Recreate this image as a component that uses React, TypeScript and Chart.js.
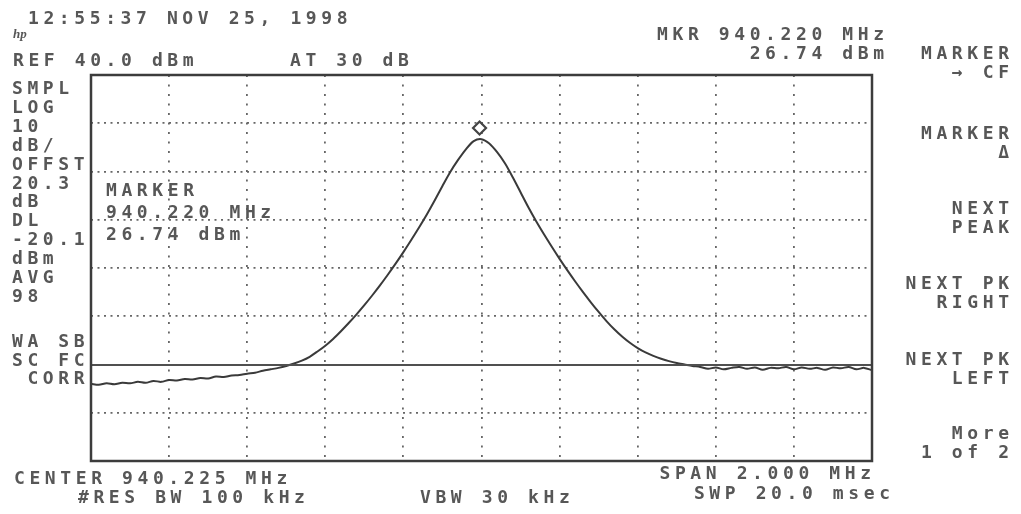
import React, { useEffect, useRef } from "react";
import { Chart, registerables } from "chart.js";

Chart.register(...registerables);

// ---- data ----
const startFreqMHz = 939.225;
const stopFreqMHz = 941.225;
const centerFreqMHz = 940.225;
const spanMHz = 2.0;
const refLevelDbm = 40;
const dbPerDiv = 10;
const verticalDivs = 8;
const horizontalDivs = 10;
const displayLineDbm = -20.1;
const markerFreqMHz = 940.22;
const markerAmplDbm = 26.74;

// 101 sweep points across the span (every 20 kHz), amplitude in dBm
const traceDbm = [
  -24.0, -24.2, -23.9, -24.1, -23.8, -23.9, -23.6, -23.8, -23.4, -23.6,
  -23.2, -23.3, -23.0, -23.1, -22.8, -22.9, -22.5, -22.6, -22.3, -22.2,
  -21.9, -21.7, -21.3, -21.0, -20.7, -20.3, -19.8, -19.2, -18.4, -17.3,
  -16.1, -14.7, -13.1, -11.4, -9.6, -7.7, -5.7, -3.6, -1.4, 0.9,
  3.3, 5.8, 8.4, 11.1, 14.0, 17.0, 19.9, 22.4, 24.6, 26.3,
  26.7, 25.8, 24.0, 21.7, 18.8, 15.7, 12.6, 9.7, 7.0, 4.4,
  1.9, -0.5, -2.8, -5.0, -7.1, -9.1, -11.0, -12.7, -14.2, -15.5,
  -16.6, -17.5, -18.2, -18.8, -19.3, -19.7, -20.0, -20.3, -20.5, -20.9,
  -20.6, -21.0, -20.7, -20.5, -20.9, -20.6, -21.1, -20.7, -20.8, -20.5,
  -21.0, -20.6, -20.9, -20.7, -21.1, -20.6, -20.8, -20.5, -21.0, -20.7,
  -21.2,
];

const leftPanel = [
  "SMPL", "LOG", "10", "dB/", "OFFST", "20.3", "dB", "DL", "-20.1", "dBm", "AVG", "98",
];
const leftPanelLower = ["WA SB", "SC FC", " CORR"];
const softkeys = [
  ["MARKER", "→ CF"],
  ["MARKER", "Δ"],
  ["NEXT", "PEAK"],
  ["NEXT PK", "RIGHT"],
  ["NEXT PK", "LEFT"],
  ["More", "1 of 2"],
];
const markerBox = ["MARKER", "940.220 MHz", "26.74 dBm"];

const W = 1021;
const H = 514;
const FONT = '"DejaVu Sans Mono", "Liberation Mono", monospace';
const LS = 4.6;
const TXT = "#575757";

type Lbl = { t: string; x: number; y: number; right?: boolean };

const labels: Lbl[] = [
  { t: "12:55:37 NOV 25, 1998", x: 28, y: 18 },
  { t: "REF 40.0 dBm", x: 13, y: 60 },
  { t: "AT 30 dB", x: 290, y: 60 },
  { t: "MKR 940.220 MHz", x: 884, y: 34, right: true },
  { t: "26.74 dBm", x: 884, y: 53, right: true },
  { t: "CENTER 940.225 MHz", x: 14, y: 478 },
  { t: "#RES BW 100 kHz", x: 78, y: 497 },
  { t: "VBW 30 kHz", x: 420, y: 497 },
  { t: "SPAN 2.000 MHz", x: 871, y: 473, right: true },
  { t: "SWP 20.0 msec", x: 890, y: 493, right: true },
];
leftPanel.forEach((t, i) => labels.push({ t, x: 12, y: 88 + i * 18.9 }));
leftPanelLower.forEach((t, i) => labels.push({ t, x: 12, y: 341 + i * 18.6 }));
const softY = [53, 133, 208, 283, 359, 433];
softkeys.forEach((pair, i) => {
  labels.push({ t: pair[0], x: 1009, y: softY[i], right: true });
  labels.push({ t: pair[1], x: 1009, y: softY[i] + 19, right: true });
});
markerBox.forEach((t, i) => labels.push({ t, x: 106, y: 190 + i * 22 }));

export default function App() {
  const ref = useRef<HTMLCanvasElement | null>(null);

  useEffect(() => {
    if (!ref.current) return;
    const step = spanMHz / (traceDbm.length - 1);
    const tracePts = traceDbm.map((v, i) => ({ x: startFreqMHz + i * step, y: v }));
    const dlPts = [
      { x: startFreqMHz, y: displayLineDbm },
      { x: stopFreqMHz, y: displayLineDbm },
    ];
    const bottom = refLevelDbm - dbPerDiv * verticalDivs;

    const framePlugin = {
      id: "frame",
      afterDatasetsDraw(chart: any) {
        const { ctx, chartArea: a, scales } = chart;
        ctx.save();
        ctx.strokeStyle = "#3c3c3c";
        ctx.lineWidth = 2.5;
        ctx.strokeRect(a.left, a.top, a.right - a.left, a.bottom - a.top);
        // marker diamond, drawn just above the marked point
        const mx = scales.x.getPixelForValue(markerFreqMHz);
        const my = scales.y.getPixelForValue(markerAmplDbm) - 11;
        const r = 6.5;
        ctx.lineWidth = 2.2;
        ctx.strokeStyle = "#444";
        ctx.beginPath();
        ctx.moveTo(mx, my - r);
        ctx.lineTo(mx + r, my);
        ctx.lineTo(mx, my + r);
        ctx.lineTo(mx - r, my);
        ctx.closePath();
        ctx.stroke();
        ctx.restore();
      },
    };

    const chart = new Chart(ref.current, {
      type: "line",
      data: {
        datasets: [
          {
            data: dlPts,
            borderColor: "#505050",
            borderWidth: 2,
            pointRadius: 0,
          },
          {
            data: tracePts,
            borderColor: "#3a3a3a",
            borderWidth: 2,
            pointRadius: 0,
            tension: 0.3,
          },
        ],
      },
      options: {
        responsive: false,
        animation: false,
        layout: { padding: { left: 91, right: W - 872, top: 75, bottom: H - 461 } },
        plugins: { legend: { display: false }, tooltip: { enabled: false } },
        scales: {
          x: {
            type: "linear",
            min: startFreqMHz,
            max: stopFreqMHz,
            afterBuildTicks: (scale: any) => {
              const t = [];
              for (let k = 0; k <= horizontalDivs; k++)
                t.push({ value: startFreqMHz + (k * spanMHz) / horizontalDivs });
              scale.ticks = t;
            },
            ticks: { display: false },
            grid: { color: "#666", lineWidth: 1.8, drawTicks: false },
            border: { display: false, dash: [2, 7.5] },
          },
          y: {
            min: bottom,
            max: refLevelDbm,
            ticks: { display: false, stepSize: dbPerDiv },
            grid: { color: "#666", lineWidth: 1.8, drawTicks: false },
            border: { display: false, dash: [2, 4.5] },
          },
        },
      },
      plugins: [framePlugin],
    } as any);
    return () => chart.destroy();
  }, []);

  return (
    <div style={{ position: "absolute", left: 0, top: 0, width: W, height: H, background: "#fff" }}>
      <canvas ref={ref} width={W} height={H} style={{ position: "absolute", left: 0, top: 0 }} />
      <div
        style={{
          position: "absolute",
          left: 13,
          top: 27,
          fontFamily: "serif",
          fontStyle: "italic",
          fontWeight: "bold",
          fontSize: 13,
          color: TXT,
          lineHeight: "14px",
        }}
      >
        hp
      </div>
      {labels.map((l, i) => (
        <div
          key={i}
          style={{
            position: "absolute",
            top: l.y - 11,
            ...(l.right ? { right: W - l.x - LS } : { left: l.x }),
            fontFamily: FONT,
            fontSize: 18,
            fontWeight: "bold",
            lineHeight: "22px",
            letterSpacing: LS,
            color: TXT,
            whiteSpace: "pre",
          }}
        >
          {l.t}
        </div>
      ))}
    </div>
  );
}
